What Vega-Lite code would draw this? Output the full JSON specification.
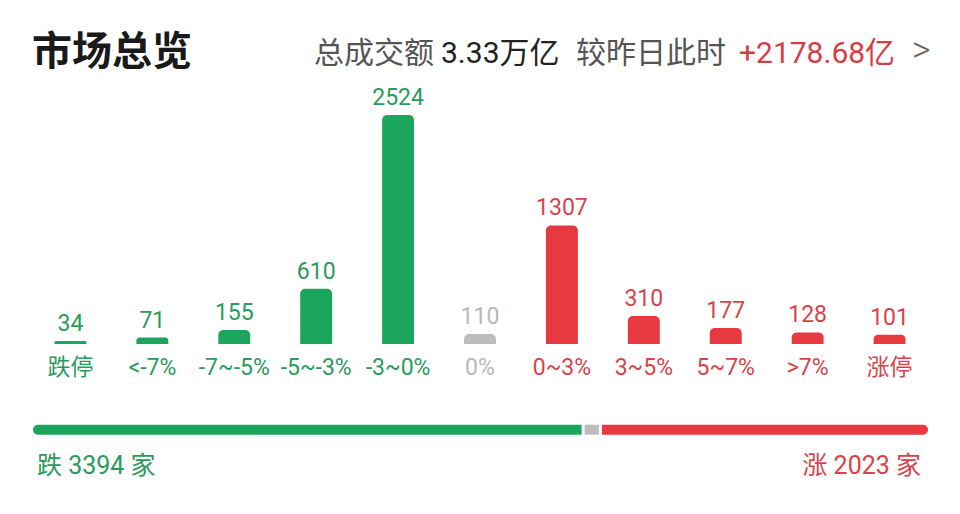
{
  "$schema": "https://vega.github.io/schema/vega-lite/v6.json",
  "width": 960,
  "height": 514,
  "autosize": {"type": "fit", "contains": "padding"},
  "padding": 0,
  "background": "white",
  "config": {"view": {"stroke": null}, "font": "Roboto, Noto Sans CJK SC"},
  "datasets": {
    "dist": [
      {"range": "跌停", "count": 34, "dir": "跌"},
      {"range": "<-7%", "count": 71, "dir": "跌"},
      {"range": "-7~-5%", "count": 155, "dir": "跌"},
      {"range": "-5~-3%", "count": 610, "dir": "跌"},
      {"range": "-3~0%", "count": 2524, "dir": "跌"},
      {"range": "0%", "count": 110, "dir": "平"},
      {"range": "0~3%", "count": 1307, "dir": "涨"},
      {"range": "3~5%", "count": 310, "dir": "涨"},
      {"range": "5~7%", "count": 177, "dir": "涨"},
      {"range": ">7%", "count": 128, "dir": "涨"},
      {"range": "涨停", "count": 101, "dir": "涨"}
    ],
    "breadth": [
      {"side": "跌", "count": 3394, "order": 1, "label": "跌 3394 家"},
      {"side": "平", "count": 110, "order": 2, "label": ""},
      {"side": "涨", "count": 2023, "order": 3, "label": "涨 2023 家"}
    ],
    "summary": [
      {"title": "市场总览", "turnoverLabel": "总成交额", "turnover": "3.33万亿", "compareLabel": "较昨日此时", "change": "+2178.68亿", "more": ">"}
    ]
  },
  "resolve": {"scale": {"x": "independent", "y": "independent"}},
  "layer": [
    {
      "data": {"name": "dist"},
      "encoding": {
        "x": {
          "field": "range", "type": "nominal", "sort": null, "axis": null,
          "scale": {
            "domain": ["跌停", "<-7%", "-7~-5%", "-5~-3%", "-3~0%", "0%", "0~3%", "3~5%", "5~7%", ">7%", "涨停"],
            "paddingInner": 0.61, "paddingOuter": 0.665
          }
        }
      },
      "layer": [
        {
          "mark": {"type": "bar", "cornerRadiusTopLeft": 5, "cornerRadiusTopRight": 5},
          "encoding": {
            "y": {"field": "count", "type": "quantitative", "axis": null, "scale": {"domain": [-1874, 3792], "nice": false}},
            "y2": {"datum": 0},
            "color": {
              "field": "dir", "type": "nominal", "legend": null,
              "scale": {"domain": ["跌", "平", "涨"], "range": ["#1ca65d", "#bdbdbd", "#e63a40"]}
            }
          }
        },
        {
          "mark": {"type": "text", "baseline": "alphabetic", "dy": -10, "fontSize": 23},
          "encoding": {
            "y": {"field": "count", "type": "quantitative", "axis": null, "scale": {"domain": [-1874, 3792], "nice": false}},
            "text": {"field": "count", "type": "quantitative"},
            "fill": {
              "field": "dir", "type": "nominal", "legend": null,
              "scale": {"domain": ["跌", "平", "涨"], "range": ["#2a9b5c", "#b8b8b8", "#d8434a"]}
            }
          }
        },
        {
          "mark": {"type": "text", "baseline": "middle", "dy": 24, "fontSize": 23},
          "encoding": {
            "y": {"datum": 0, "type": "quantitative", "axis": null, "scale": {"domain": [-1874, 3792], "nice": false}},
            "text": {"field": "range", "type": "nominal"},
            "fill": {
              "field": "dir", "type": "nominal", "legend": null,
              "scale": {"domain": ["跌", "平", "涨"], "range": ["#2a9b5c", "#b8b8b8", "#d8434a"]}
            }
          }
        }
      ]
    },
    {
      "layer": [
        {
          "data": {"name": "breadth"},
          "transform": [
            {"stack": "count", "groupby": [], "sort": [{"field": "order", "order": "ascending"}], "as": ["start", "end"]}
          ],
          "encoding": {
            "y": {"datum": "全部", "type": "nominal", "axis": null, "scale": {"type": "point", "domain": ["全部"], "padding": 0.5, "align": 0.836}}
          },
          "layer": [
            {
              "transform": [{"filter": "datum.side === '跌'"}],
              "mark": {"type": "bar", "height": 10, "color": "#1ca65d", "cornerRadiusTopLeft": 5, "cornerRadiusBottomLeft": 5, "x2Offset": -1},
              "encoding": {
                "x": {"field": "start", "type": "quantitative", "axis": null, "scale": {"domain": [-203.8, 5724.5], "nice": false, "zero": false}},
                "x2": {"field": "end"}
              }
            },
            {
              "transform": [{"filter": "datum.side === '平'"}],
              "mark": {"type": "bar", "height": 10, "color": "#bdbdbd", "xOffset": 2, "x2Offset": -1.5},
              "encoding": {
                "x": {"field": "start", "type": "quantitative", "axis": null, "scale": {"domain": [-203.8, 5724.5], "nice": false, "zero": false}},
                "x2": {"field": "end"}
              }
            },
            {
              "transform": [{"filter": "datum.side === '涨'"}],
              "mark": {"type": "bar", "height": 10, "color": "#e63a40", "cornerRadiusTopRight": 5, "cornerRadiusBottomRight": 5, "xOffset": 1.5},
              "encoding": {
                "x": {"field": "start", "type": "quantitative", "axis": null, "scale": {"domain": [-203.8, 5724.5], "nice": false, "zero": false}},
                "x2": {"field": "end"}
              }
            },
            {
              "transform": [{"filter": "datum.side === '跌'"}],
              "mark": {"type": "text", "align": "left", "baseline": "middle", "dx": 4, "dy": 36, "fontSize": 25, "color": "#2a9b5c"},
              "encoding": {
                "x": {"field": "start", "type": "quantitative", "axis": null, "scale": {"domain": [-203.8, 5724.5], "nice": false, "zero": false}},
                "text": {"field": "label", "type": "nominal"}
              }
            },
            {
              "transform": [{"filter": "datum.side === '涨'"}],
              "mark": {"type": "text", "align": "right", "baseline": "middle", "dx": -7, "dy": 36, "fontSize": 25, "color": "#d8434a"},
              "encoding": {
                "x": {"field": "end", "type": "quantitative", "axis": null, "scale": {"domain": [-203.8, 5724.5], "nice": false, "zero": false}},
                "text": {"field": "label", "type": "nominal"}
              }
            }
          ]
        },
        {
          "data": {"name": "summary"},
          "encoding": {
            "x": {"datum": 0, "type": "quantitative", "axis": null, "scale": {"domain": [-203.8, 5724.5], "nice": false, "zero": false}},
            "y": {"datum": "全部", "type": "nominal", "axis": null, "scale": {"type": "point", "domain": ["全部"], "padding": 0.5, "align": 0.836}}
          },
          "layer": [
            {
              "mark": {"type": "text", "align": "left", "baseline": "middle", "dx": -1, "dy": -377, "fontSize": 40, "fontWeight": "bold", "color": "#1a1a1a", "font": "Noto Sans CJK SC"},
              "encoding": {"text": {"field": "title", "type": "nominal"}}
            },
            {
              "mark": {"type": "text", "align": "left", "baseline": "middle", "dx": 281, "dy": -376, "fontSize": 30, "color": "#555555"},
              "encoding": {"text": {"field": "turnoverLabel", "type": "nominal"}}
            },
            {
              "mark": {"type": "text", "align": "left", "baseline": "middle", "dx": 408, "dy": -376, "fontSize": 30, "color": "#222222"},
              "encoding": {"text": {"field": "turnover", "type": "nominal"}}
            },
            {
              "mark": {"type": "text", "align": "left", "baseline": "middle", "dx": 543, "dy": -376, "fontSize": 30, "color": "#555555"},
              "encoding": {"text": {"field": "compareLabel", "type": "nominal"}}
            },
            {
              "mark": {"type": "text", "align": "left", "baseline": "middle", "dx": 706, "dy": -376, "fontSize": 30, "color": "#d63c44"},
              "encoding": {"text": {"field": "change", "type": "nominal"}}
            },
            {
              "mark": {"type": "text", "align": "left", "baseline": "middle", "dx": 879, "dy": -379, "fontSize": 36, "fontWeight": 300, "color": "#666666"},
              "encoding": {"text": {"field": "more", "type": "nominal"}}
            }
          ]
        }
      ]
    }
  ]
}
